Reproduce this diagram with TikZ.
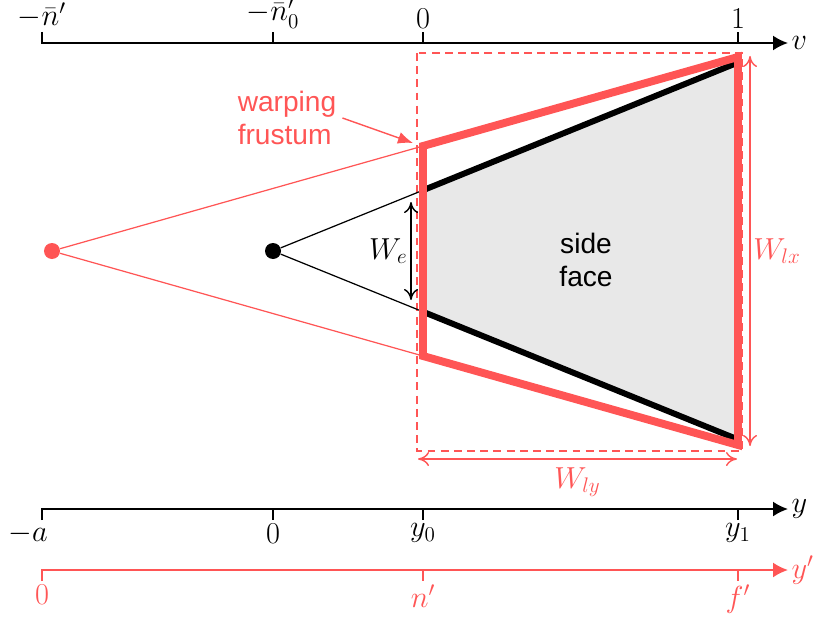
\documentclass[tikz,border=0pt]{standalone}
\usepackage{fontspec}
\setsansfont{Liberation Sans}
\usetikzlibrary{arrows.meta, positioning}
\definecolor{warp}{RGB}{255,85,85}
\definecolor{facegray}{RGB}{232,232,232}

\begin{document}
\begin{tikzpicture}[
  axis/.style={line width=1.1pt, -{Latex[length=3mm, width=3mm]}},
  tick/.style={line width=1.1pt},
  lbl/.style={font=\LARGE, inner sep=1.5pt},
  txt/.style={font=\sffamily\fontsize{16}{19}\selectfont, align=left},
  dot/.style={circle, fill, inner sep=0pt, minimum size=0.32cm},
  dim/.style={{To[length=2.2mm, width=2.8mm]}-{To[length=2.2mm, width=2.8mm]}, line width=0.8pt},
  ray/.style={line width=0.7pt}
]
\useasboundingbox (-5.46,-7.42) rectangle (10.92,5.02);

% points of the two frusta
\node[dot] (eye) at (0,0) {};
\node[dot, warp] (warpeye) at (-4.42,0) {};
\coordinate (ftl) at (3.0,1.215);
\coordinate (fbl) at (3.0,-1.215);
\coordinate (ftr) at (9.3,3.77);
\coordinate (fbr) at (9.3,-3.77);
\coordinate (wtl) at (3.0,2.1);
\coordinate (wbl) at (3.0,-2.1);
\coordinate (wtr) at (9.3,3.88);
\coordinate (wbr) at (9.3,-3.88);
\coordinate (boxtl) at (2.88,3.96);
\coordinate (boxbr) at (9.38,-4.0);

% v axis
\coordinate (vn) at (-4.62,4.16);
\coordinate (vn0) at (0,4.16);
\coordinate (v0) at (3.0,4.16);
\coordinate (v1) at (9.3,4.16);
\coordinate (vend) at (10.3,4.16);
\draw[axis] ([yshift=0.22cm]vn) node[lbl, above] (vnlab) {$-\bar n'$} -- (vn) -- (vend) node[lbl, right] (vlab) {$v$};
\draw[tick] (vn0) -- ++(0,0.22) node[lbl, above] (vn0lab) {$-\bar n'_0$};
\draw[tick] (v0) -- ++(0,0.22) node[lbl, above] (v0lab) {$0$};
\draw[tick] (v1) -- ++(0,0.22) node[lbl, above] (v1lab) {$1$};

% y axis
\coordinate (ya) at (-4.62,-5.16);
\coordinate (yz) at (0,-5.16);
\coordinate (y0) at (3.0,-5.16);
\coordinate (y1) at (9.3,-5.16);
\coordinate (yend) at (10.3,-5.16);
\draw[axis] ([yshift=-0.22cm]ya) node[lbl, below, xshift=-0.28cm] (yalab) {$-a$} -- (ya) -- (yend) node[lbl, right] (ylab) {$y$};
\draw[tick] (yz) -- ++(0,-0.22) node[lbl, below] (yzlab) {$0$};
\draw[tick] (y0) -- ++(0,-0.22) node[lbl, below] (y0lab) {$y_0$};
\draw[tick] (y1) -- ++(0,-0.22) node[lbl, below] (y1lab) {$y_1$};

% y' axis
\coordinate (pz) at (-4.62,-6.38);
\coordinate (pn) at (3.0,-6.38);
\coordinate (pf) at (9.3,-6.38);
\coordinate (pend) at (10.3,-6.38);
\draw[axis, warp] ([yshift=-0.22cm]pz) node[lbl, below] (pzlab) {$0$} -- (pz) -- (pend) node[lbl, right] (plab) {$y'$};
\draw[tick, warp] (pn) -- ++(0,-0.22) node[lbl, below] (pnlab) {$n'$};
\draw[tick, warp] (pf) -- ++(0,-0.22) node[lbl, below] (pflab) {$f'$};

% frusta
\draw[warp, line width=0.8pt, dash pattern=on 4.5pt off 3pt] (boxtl) rectangle (boxbr);
\draw[ray, warp] (warpeye) -- (wtl);
\draw[ray, warp] (warpeye) -- (wbl);
\draw[ray] (eye) -- (ftl);
\draw[ray] (eye) -- (fbl);
\draw[line width=3.4pt, fill=facegray] (ftl) -- (ftr) -- (fbr) -- (fbl) -- cycle;
\draw[warp, line width=4.5pt] (wtl) -- (wtr) -- (wbr) -- (wbl) -- cycle;
\node[txt, align=center] (face) at (6.26,-0.18) {side\\face};

% labels and sizes
\node[txt, warp] (warplab) at (0.28,2.66) {warping\\frustum};
\coordinate (warptip) at (2.8,2.16);
\draw[warp, line width=0.8pt, -{Latex[length=3mm, width=2.4mm]}] (warplab.east) -- (warptip);

\coordinate (we1) at (2.76,0.98);
\coordinate (we2) at (2.76,-0.98);
\draw[dim] (we1) -- (we2) node[midway, left, lbl] (welab) {$W_e$};

\coordinate (lx1) at (9.54,3.9);
\coordinate (lx2) at (9.54,-3.9);
\draw[dim, warp] (lx1) -- (lx2) node[midway, right, lbl, text=warp] (lxlab) {$W_{lx}$};

\coordinate (ly1) at (2.9,-4.16);
\coordinate (ly2) at (9.28,-4.16);
\draw[dim, warp] (ly1) -- (ly2) node[midway, below, lbl, text=warp, yshift=-0.1cm] (lylab) {$W_{ly}$};
\end{tikzpicture}
\end{document}
